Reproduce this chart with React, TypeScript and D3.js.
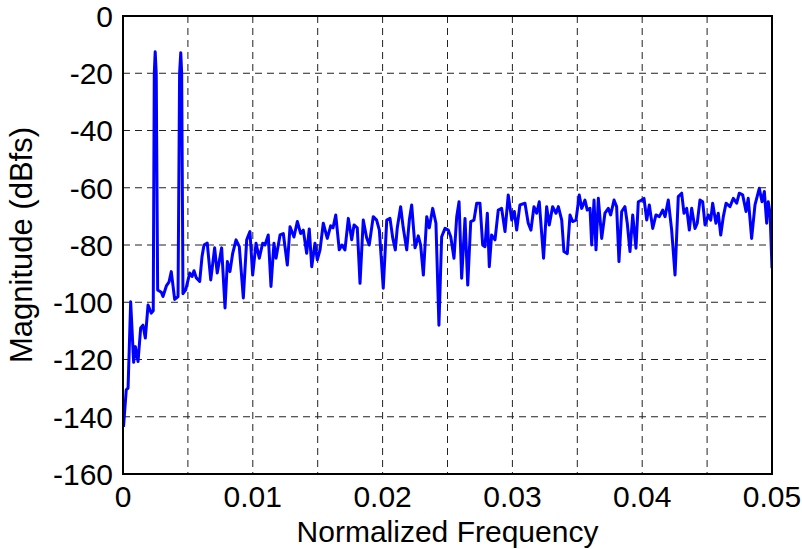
import React, { useEffect, useRef } from "react";
import * as d3 from "d3";

// Spectrum of a two-tone test signal (normalized frequency vs dBFS)
const freqs: number[] = [
  0.00004, 0.00025, 0.00039, 0.00059, 0.00082, 0.00095, 0.00116, 0.00136, 0.00154, 0.00172,
  0.00193, 0.00218, 0.00233, 0.00241, 0.00248, 0.00256, 0.00267, 0.00295, 0.00308, 0.00334,
  0.00354, 0.00372, 0.00398, 0.00424, 0.00436, 0.00445, 0.00452, 0.00462, 0.00483, 0.00514,
  0.00532, 0.00547, 0.00565, 0.00591, 0.00609, 0.00624, 0.00649, 0.00676, 0.00706, 0.00726,
  0.0076, 0.00786, 0.00804, 0.00824, 0.00845, 0.00871, 0.00896, 0.00927, 0.00953, 0.00978,
  0.00999, 0.01025, 0.0105, 0.01076, 0.01094, 0.01119, 0.0114, 0.01163, 0.01179, 0.0121,
  0.01235, 0.01266, 0.01287, 0.01317, 0.01343, 0.01369, 0.01389, 0.01415, 0.01435, 0.01454,
  0.01479, 0.01497, 0.01518, 0.01543, 0.01574, 0.016, 0.01618, 0.01639, 0.01666, 0.01687,
  0.0171, 0.01736, 0.01762, 0.0178, 0.01805, 0.01826, 0.01851, 0.01877, 0.01897, 0.01928,
  0.01954, 0.01975, 0.02005, 0.02032, 0.02057, 0.02078, 0.02098, 0.02113, 0.02139, 0.02159,
  0.02186, 0.02206, 0.02224, 0.0225, 0.02275, 0.02293, 0.02314, 0.0234, 0.0236, 0.02386,
  0.02411, 0.02434, 0.02455, 0.02481, 0.02506, 0.02525, 0.0255, 0.02571, 0.02589, 0.02609,
  0.02635, 0.02656, 0.02679, 0.02704, 0.02725, 0.0275, 0.02771, 0.02789, 0.02807, 0.02822,
  0.0284, 0.02866, 0.02891, 0.02917, 0.02943, 0.02968, 0.02995, 0.03015, 0.03033, 0.03058,
  0.03097, 0.03122, 0.03143, 0.03166, 0.03187, 0.03207, 0.0324, 0.03264, 0.03284, 0.0331,
  0.03336, 0.03354, 0.0338, 0.03397, 0.03423, 0.03444, 0.03464, 0.0349, 0.03515, 0.03534,
  0.03559, 0.03577, 0.03598, 0.03611, 0.03629, 0.03644, 0.03662, 0.03688, 0.03713, 0.03739,
  0.03757, 0.03783, 0.03803, 0.03821, 0.03842, 0.03867, 0.03885, 0.03906, 0.03927, 0.03952,
  0.0397, 0.03996, 0.04014, 0.04035, 0.04055, 0.04081, 0.04106, 0.04132, 0.04158, 0.04176,
  0.04201, 0.04227, 0.04253, 0.04278, 0.04304, 0.04322, 0.04343, 0.04363, 0.04381, 0.04407,
  0.04424, 0.04445, 0.04466, 0.04484, 0.04509, 0.04528, 0.04543, 0.04568, 0.04586, 0.04605,
  0.04625, 0.04646, 0.04676, 0.04702, 0.04728, 0.04748, 0.04774, 0.048, 0.04817, 0.04843,
  0.04869, 0.04902, 0.04923, 0.04941, 0.04959, 0.04971, 0.04985, 0.05,
];

const magnitudes: number[] = [
  -143.5, -130.6, -130, -99.8, -121, -115.5, -120.7, -109, -108, -112.5,
  -101, -103.8, -103, -20, -12.5, -20, -95.7, -96.5, -98, -94.3,
  -93, -89.3, -99, -98, -20, -12.8, -20, -97, -95.7, -89.8,
  -91, -89, -91.5, -92.7, -84, -80, -79.3, -92.2, -81, -89.8,
  -81, -102, -85.8, -89.3, -82.9, -78.2, -80.6, -98.5, -78.2, -75.3,
  -90.5, -79.4, -84.6, -79.4, -80, -76.5, -94.5, -79.4, -84.6, -76.5,
  -76, -87, -73.6, -77.2, -71.8, -76, -74.8, -82.9, -74.4, -87.6,
  -79.4, -85.2, -81.7, -72.4, -77.7, -73.3, -74, -69.5, -81.7, -80,
  -81.7, -70.7, -78.2, -73, -74, -93.4, -71.3, -77.5, -80, -70.1,
  -71.3, -74.8, -95.1, -71.3, -70.7, -77.5, -81.7, -74, -66.6, -74,
  -81.7, -71.3, -66, -81, -76.8, -80, -90.5, -70.1, -74, -67.2,
  -72.4, -108, -77.1, -74.2, -74.8, -77.1, -84.6, -70.1, -64.9, -91.6,
  -70.7, -94, -71.8, -71.3, -65.4, -65.4, -80, -80.6, -68.9, -87.6,
  -76.5, -78.2, -67.8, -67.2, -75.3, -62.5, -71.3, -68.3, -74.8, -66,
  -65.4, -72.4, -74.8, -66.6, -68.9, -64.9, -84.6, -66.6, -73, -66.6,
  -68.9, -66.6, -71.3, -82.3, -83, -69.5, -71.8, -71.3, -62.5, -67.2,
  -64.3, -67.8, -67.2, -80, -64.3, -81.7, -63.7, -77.7, -68.9, -67.2,
  -69.5, -64.3, -66.6, -85.8, -68.3, -66.6, -72.4, -82.3, -69.5, -81.1,
  -64.9, -64.3, -63.7, -71.3, -66, -74.2, -69.5, -70.1, -67.8, -70.1,
  -64.3, -74.8, -90.5, -63.1, -61.9, -68.9, -67.2, -74.8, -67.2, -74.2,
  -72.4, -64.3, -64.9, -73, -69.5, -71.3, -65.4, -72.4, -68.9, -76.5,
  -70.1, -65.4, -66.6, -63.7, -65.4, -61.9, -62.5, -68.3, -63.7, -77.7,
  -66, -60.2, -64.9, -61.3, -72.4, -64.9, -68.9, -88.1,
];

const xTickLabels: number[] = [0, 0.01, 0.02, 0.03, 0.04, 0.05];
const xGridValues: number[] = [0.005, 0.01, 0.015, 0.02, 0.025, 0.03, 0.035, 0.04, 0.045];
const yTickValues: number[] = [0, -20, -40, -60, -80, -100, -120, -140, -160];

const W = 802;
const H = 549;
const margin = { top: 16, right: 30, bottom: 75, left: 123 };
const FONT = "'Liberation Sans', Arial, Helvetica, sans-serif";

export default function App() {
  const ref = useRef<SVGSVGElement>(null);

  useEffect(() => {
    const svg = d3.select(ref.current);
    svg.selectAll("*").remove();

    const iw = W - margin.left - margin.right;
    const ih = H - margin.top - margin.bottom;

    const x = d3.scaleLinear().domain([0, 0.05]).range([0, iw]);
    const y = d3.scaleLinear().domain([-160, 0]).range([ih, 0]);

    svg.append("rect").attr("width", W).attr("height", H).attr("fill", "#fff");

    const g = svg.append("g").attr("transform", `translate(${margin.left},${margin.top})`);

    // dashed grid
    const grid = g.append("g").attr("stroke", "#222").attr("stroke-width", 1).attr("stroke-dasharray", "7,5");
    grid
      .selectAll("line.vx")
      .data(xGridValues)
      .join("line")
      .attr("x1", (d) => x(d))
      .attr("x2", (d) => x(d))
      .attr("y1", 0)
      .attr("y2", ih);
    grid
      .selectAll("line.hy")
      .data(yTickValues.filter((v) => v !== 0 && v !== -160))
      .join("line")
      .attr("x1", 0)
      .attr("x2", iw)
      .attr("y1", (d) => y(d))
      .attr("y2", (d) => y(d));

    // spectrum trace
    const pts: [number, number][] = freqs.map((f, i) => [f, magnitudes[i]]);
    const line = d3
      .line<[number, number]>()
      .x((d) => x(d[0]))
      .y((d) => y(d[1]));
    const clipId = "plot-clip";
    svg
      .append("defs")
      .append("clipPath")
      .attr("id", clipId)
      .append("rect")
      .attr("x", 0)
      .attr("y", 0)
      .attr("width", iw)
      .attr("height", ih);
    g.append("path")
      .datum(pts)
      .attr("clip-path", `url(#${clipId})`)
      .attr("d", line)
      .attr("fill", "none")
      .attr("stroke", "#0000ff")
      .attr("stroke-width", 3)
      .attr("stroke-linejoin", "round");

    // axes box
    g.append("rect")
      .attr("x", 0)
      .attr("y", 0)
      .attr("width", iw)
      .attr("height", ih)
      .attr("fill", "none")
      .attr("stroke", "#000")
      .attr("stroke-width", 2);

    // tick labels
    g.append("g")
      .selectAll("text")
      .data(xTickLabels)
      .join("text")
      .attr("x", (d) => x(d))
      .attr("y", ih + 33)
      .attr("text-anchor", "middle")
      .attr("font-family", FONT)
      .attr("font-size", 30)
      .attr("fill", "#000")
      .text((d) => (d === 0 ? "0" : d3.format(".2f")(d)));

    g.append("g")
      .selectAll("text")
      .data(yTickValues)
      .join("text")
      .attr("x", -10)
      .attr("y", (d) => y(d))
      .attr("dy", "0.36em")
      .attr("text-anchor", "end")
      .attr("font-family", FONT)
      .attr("font-size", 30)
      .attr("fill", "#000")
      .text((d) => String(d));

    // axis titles
    svg
      .append("text")
      .attr("x", margin.left + iw / 2)
      .attr("y", 542)
      .attr("text-anchor", "middle")
      .attr("font-family", FONT)
      .attr("font-size", 30)
      .attr("fill", "#000")
      .text("Normalized Frequency");

    svg
      .append("text")
      .attr("transform", `translate(32,${margin.top + ih / 2}) rotate(-90)`)
      .attr("text-anchor", "middle")
      .attr("font-family", FONT)
      .attr("font-size", 31)
      .attr("fill", "#000")
      .text("Magnitude (dBfs)");
  }, []);

  return (
    <svg
      ref={ref}
      width={W}
      height={H}
      style={{ position: "absolute", left: 0, top: 0, display: "block" }}
    />
  );
}
